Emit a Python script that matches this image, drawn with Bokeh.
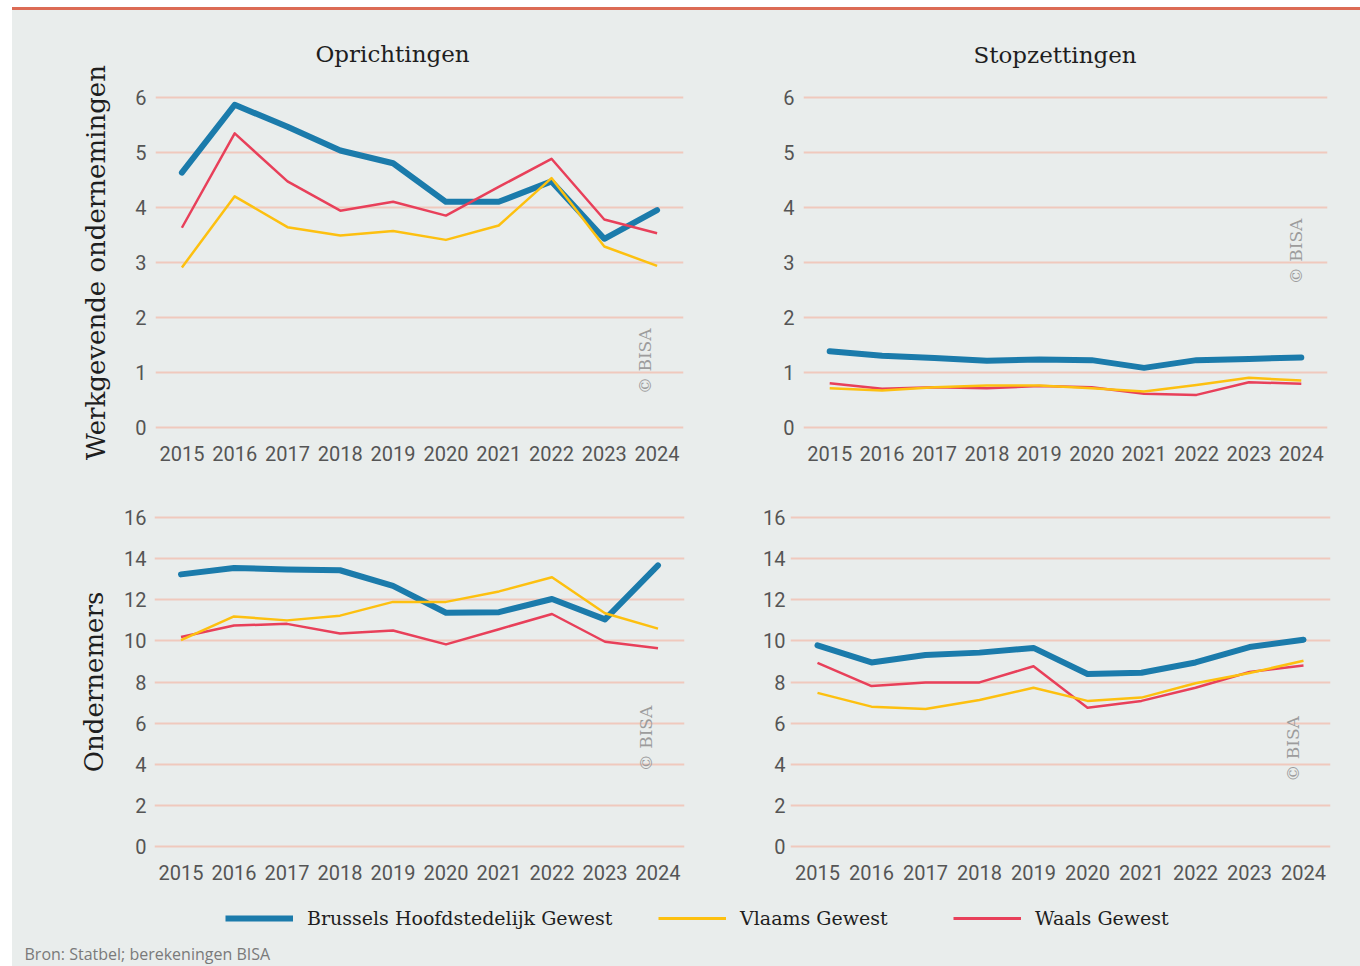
import numpy as np
from bokeh.plotting import figure
from bokeh.models import Range1d, FixedTicker, Label, Legend, LegendItem, Div, Spacer
from bokeh.layouts import column, row
from bokeh.embed import file_html
from bokeh.resources import INLINE
from bokeh.core.properties import value

# ---------------- data ----------------
years = [2015, 2016, 2017, 2018, 2019, 2020, 2021, 2022, 2023, 2024]

series_names = ["Brussels Hoofdstedelijk Gewest", "Vlaams Gewest", "Waals Gewest"]

# Werkgevende ondernemingen - Oprichtingen
opr_wg_brussel = [4.63, 5.86, 5.46, 5.03, 4.80, 4.10, 4.10, 4.47, 3.43, 3.95]
opr_wg_vlaams = [2.91, 4.20, 3.64, 3.49, 3.57, 3.41, 3.67, 4.53, 3.29, 2.94]
opr_wg_waals = [3.63, 5.34, 4.47, 3.94, 4.10, 3.85, 4.37, 4.88, 3.78, 3.53]

# Werkgevende ondernemingen - Stopzettingen
stop_wg_brussel = [1.39, 1.31, 1.27, 1.22, 1.24, 1.23, 1.09, 1.23, 1.25, 1.28]
stop_wg_vlaams = [0.72, 0.68, 0.74, 0.77, 0.77, 0.72, 0.66, 0.78, 0.91, 0.86]
stop_wg_waals = [0.81, 0.71, 0.74, 0.72, 0.76, 0.74, 0.62, 0.60, 0.83, 0.80]

# Ondernemers - Oprichtingen
opr_on_brussel = [13.24, 13.55, 13.48, 13.44, 12.68, 11.37, 11.40, 12.04, 11.05, 13.68]
opr_on_vlaams = [10.04, 11.19, 11.00, 11.23, 11.90, 11.90, 12.41, 13.10, 11.35, 10.60]
opr_on_waals = [10.19, 10.75, 10.83, 10.36, 10.51, 9.83, 10.57, 11.31, 9.96, 9.64]

# Ondernemers - Stopzettingen
stop_on_brussel = [9.78, 8.95, 9.31, 9.43, 9.66, 8.39, 8.45, 8.95, 9.70, 10.06]
stop_on_vlaams = [7.47, 6.80, 6.69, 7.12, 7.72, 7.08, 7.24, 7.94, 8.44, 9.03]
stop_on_waals = [8.93, 7.80, 7.98, 7.98, 8.77, 6.75, 7.08, 7.72, 8.49, 8.80]

ticks_top = [0, 1, 2, 3, 4, 5, 6]
ticks_bottom = [0, 2, 4, 6, 8, 10, 12, 14, 16]

# ---------------- style ----------------
BG = "#e9edec"
GRID = "#f0c9bd"
BLUE = "#1b7bab"
YELLOW = "#fdc010"
RED = "#e8405a"
TICK_COLOR = "#555555"
SERIF = "DejaVu Serif"
SANS = "Roboto"


def panel(width, height, bl, br, bt, bb, ymax, ticks, pad, series,
          title=None, title_offset=0, title_standoff=50, ylabel=None,
          ylabel_standoff=10, ylab_standoff=9, wm=None):
    p = figure(width=width, height=height, output_backend="svg",
               toolbar_location=None,
               x_range=Range1d(2014.5, 2024.5),
               y_range=Range1d(-pad, ymax + pad),
               min_border_left=bl, min_border_right=br,
               min_border_top=bt, min_border_bottom=bb)
    p.background_fill_color = BG
    p.border_fill_color = BG
    p.outline_line_color = None
    p.xgrid.visible = False
    p.ygrid.grid_line_color = GRID
    p.ygrid.grid_line_width = 2

    p.xaxis.ticker = FixedTicker(ticks=years)
    p.yaxis.ticker = FixedTicker(ticks=ticks)
    for ax in (p.xaxis, p.yaxis):
        ax.axis_line_color = None
        ax.major_tick_line_color = None
        ax.minor_tick_line_color = None
        ax.major_tick_out = 0
        ax.major_tick_in = 0
        ax.major_label_text_font = SANS
        ax.major_label_text_font_size = "20px"
        ax.major_label_text_color = TICK_COLOR
    p.xaxis.major_label_standoff = 12
    p.yaxis.major_label_standoff = ylab_standoff

    if ylabel:
        p.yaxis.axis_label = ylabel
        p.yaxis.axis_label_text_font = SERIF
        p.yaxis.axis_label_text_font_size = "26px"
        p.yaxis.axis_label_text_font_style = "normal"
        p.yaxis.axis_label_text_color = "#1e1e1e"
        p.yaxis.axis_label_standoff = ylabel_standoff

    if title:
        p.title.text = title
        p.title.text_font = SERIF
        p.title.text_font_size = "23px"
        p.title.text_font_style = "normal"
        p.title.text_color = "#1e1e1e"
        p.title.align = "left"
        p.title.offset = title_offset
        p.title.standoff = title_standoff

    b, v, w = series
    p.line(years, b, line_color=BLUE, line_width=6, line_join="round", line_cap="round")
    p.line(years, w, line_color=RED, line_width=2.5, line_join="round")
    p.line(years, v, line_color=YELLOW, line_width=2.5, line_join="round")

    if wm:
        p.add_layout(Label(x=wm[0], y=wm[1], text="\u00a9 BISA", angle=np.pi / 2,
                           text_align="center", text_baseline="middle",
                           text_color="#9c9c9c", text_font=SERIF,
                           text_font_size="17px"))
    return p


f1 = panel(688, 460, 143, 17, 81, 36, 6, ticks_top, 0.1,
           (opr_wg_brussel, opr_wg_vlaams, opr_wg_waals),
           title="Oprichtingen", title_offset=160, title_standoff=50,
           ylabel="Werkgevende ondernemingen", ylabel_standoff=21,
           wm=(2023.78, 1.21))
f2 = panel(660, 460, 103, 33, 80, 37, 6, ticks_top, 0.1,
           (stop_wg_brussel, stop_wg_vlaams, stop_wg_waals),
           title="Stopzettingen", title_offset=170, title_standoff=47,
           wm=(2023.89, 3.2))
f3 = panel(688, 422, 142, 16, 41, 37, 16, ticks_bottom, 0.3,
           (opr_on_brussel, opr_on_vlaams, opr_on_waals),
           ylabel="Ondernemers", ylabel_standoff=12, ylab_standoff=8,
           wm=(2023.77, 5.25))
f4 = panel(660, 422, 90, 30, 36, 40, 16, ticks_bottom, 0.3,
           (stop_on_brussel, stop_on_vlaams, stop_on_waals),
           ylab_standoff=5, wm=(2023.81, 4.74))

# ---------------- legend + source ----------------
lf = figure(width=1348, height=74, output_backend="svg", toolbar_location=None,
            x_range=Range1d(0, 1348), y_range=Range1d(0, 74),
            x_axis_type=None, y_axis_type=None, min_border=0)
lf.background_fill_color = BG
lf.border_fill_color = BG
lf.outline_line_color = None
lf.xgrid.visible = False
lf.ygrid.visible = False

# legend-only renderers (their data lie outside this strip's visible range)
r_b = lf.line(years, stop_on_brussel, line_color=BLUE, line_width=6)
r_v = lf.line(years, stop_on_vlaams, line_color=YELLOW, line_width=3)
r_w = lf.line(years, stop_on_waals, line_color=RED, line_width=3)

for name, r, xpos in zip(series_names, (r_b, r_v, r_w), (213, 646, 941)):
    leg = Legend(items=[LegendItem(label=value(name), renderers=[r])],
                 location=(xpos, 37), orientation="horizontal",
                 glyph_width=68, glyph_height=20, label_height=20,
                 label_standoff=14, label_text_font=SERIF,
                 label_text_font_size="19px", label_text_color="#1e1e1e",
                 border_line_color=None, background_fill_alpha=0,
                 padding=0, margin=0, spacing=0)
    lf.add_layout(leg)

lf.add_layout(Label(x=12, y=13, text="Bron: Statbel; berekeningen BISA",
                    text_align="left", text_baseline="middle",
                    text_color="#7a7a7a", text_font="Open Sans",
                    text_font_size="16px"))

topline = Div(width=1348, height=3, margin=0,
              styles={"background-color": "#dc6b55"})

body = column(row(f1, f2, spacing=0), row(f3, f4, spacing=0), lf,
              spacing=0, styles={"background-color": BG})
inner = column(Spacer(width=1348, height=7, margin=0), topline, body, spacing=0)
layout = row(Spacer(width=12, height=966, margin=0), inner, spacing=0)

open("out.html", "w").write(file_html(layout, INLINE))
